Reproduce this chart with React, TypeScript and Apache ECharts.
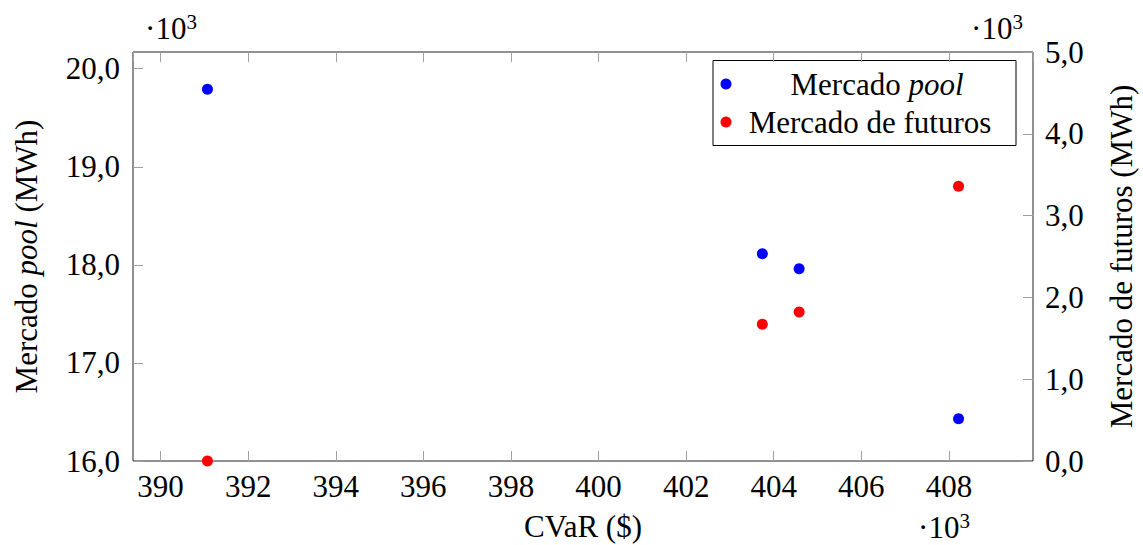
import React, { useEffect, useRef } from "react";
import * as echarts from "echarts";

const seriesNames = ["Mercado pool", "Mercado de futuros"];
const cvar = [391070, 403740, 404580, 408220];
const poolMWh = [19790, 18114, 17960, 16430];
const futurosMWh = [0, 1672, 1822, 3358];
const colors = ["#0000ff", "#ff0000"];

const FONT = "Liberation Serif, DejaVu Serif, serif";
const FS = 31;

const fmt1 = (v: number) => (v / 1000).toFixed(1).replace(".", ",");

export default function App() {
  const ref = useRef<HTMLDivElement>(null);
  useEffect(() => {
    const chart = echarts.init(ref.current!, null, { renderer: "svg" });
    const tickStyle = { show: true, inside: true, length: 10, lineStyle: { color: "#a0a0a0", width: 1 } };
    const txt = { fontFamily: FONT, fontSize: FS, color: "#000" };
    const legendItems = seriesNames.map((n, i) => [
      {
        type: "circle",
        shape: { cx: 726, cy: 84 + i * 38, r: 5.5 },
        style: { fill: colors[i] },
      },
      {
        type: "text",
        x: i === 0 ? 877 : 870,
        y: 84 + i * 38,
        style: {
          text: i === 0 ? "Mercado {i|pool}" : n,
          ...txt,
          fill: "#000",
          align: "center",
          verticalAlign: "middle",
          rich: { i: { fontStyle: "italic", fontFamily: FONT, fontSize: FS } },
        },
      },
    ]).flat();
    const sup = (x: number, y: number) => ({
      type: "text",
      x,
      y,
      style: {
        text: "·10{s|3}",
        fontFamily: FONT,
        fontSize: FS,
        fill: "#000",
        align: "center",
        verticalAlign: "middle",
        rich: { s: { fontFamily: FONT, fontSize: 21, verticalAlign: "top", padding: [0, 0, 12, 0] } },
      },
    });
    const xCommon = {
      type: "value",
      min: 389370,
      max: 409920,
      splitNumber: 10,
      splitLine: { show: false },
      axisLine: { show: false },
      axisTick: tickStyle,
    };
    chart.setOption({
      animation: false,
      grid: {
        left: 133,
        right: 110,
        top: 52,
        bottom: 84,
        outerBoundsMode: "none",
        containLabel: false,
        show: true,
        borderColor: "#222",
        borderWidth: 1,
      },
      xAxis: [
        {
          ...xCommon,
          position: "bottom",
          name: "CVaR ($)",
          nameLocation: "middle",
          nameGap: 50,
          nameTextStyle: txt,
          axisLabel: {
            ...txt,
            margin: 10,
            showMinLabel: false,
            showMaxLabel: false,
            formatter: (v: number) => String(Math.round(v / 1000)),
          },
        },
        {
          ...xCommon,
          position: "top",
          axisLabel: { show: false },
        },
      ],
      yAxis: [
        {
          type: "value",
          min: 16000,
          max: 20170,
          splitNumber: 4,
          position: "left",
          splitLine: { show: false },
          axisLine: { show: false },
          axisTick: tickStyle,
          name: "Mercado {i|pool} (MWh)",
          nameLocation: "middle",
          nameGap: 91,
          nameTextStyle: { ...txt, rich: { i: { fontStyle: "italic", fontFamily: FONT, fontSize: FS } } },
          axisLabel: { ...txt, margin: 13, showMaxLabel: false, formatter: fmt1 },
        },
        {
          type: "value",
          min: 0,
          max: 5000,
          interval: 1000,
          position: "right",
          splitLine: { show: false },
          axisLine: { show: false },
          axisTick: tickStyle,
          name: "Mercado de futuros (MWh)",
          nameLocation: "middle",
          nameGap: 73,
          nameTextStyle: txt,
          axisLabel: { ...txt, margin: 12, formatter: fmt1 },
        },
      ],
      series: [
        {
          name: seriesNames[0],
          type: "scatter",
          xAxisIndex: 0,
          yAxisIndex: 0,
          symbolSize: 11,
          itemStyle: { color: colors[0], opacity: 1 },
          data: cvar.map((x, i) => [x, poolMWh[i]]),
        },
        {
          name: seriesNames[1],
          type: "scatter",
          xAxisIndex: 0,
          yAxisIndex: 1,
          symbolSize: 11,
          itemStyle: { color: colors[1], opacity: 1 },
          data: cvar.map((x, i) => [x, futurosMWh[i]]),
        },
      ],
      graphic: [
        {
          type: "rect",
          shape: { x: 713, y: 60.5, width: 303, height: 85 },
          style: { fill: "#fff", stroke: "#000", lineWidth: 1 },
        },
        ...legendItems,
        sup(171, 28),
        sup(997, 28),
        sup(944, 527),
      ],
    });
    return () => chart.dispose();
  }, []);
  return (
    <div
      ref={ref}
      style={{ position: "fixed", left: 0, top: 0, width: 1143, height: 545, background: "#fff" }}
    />
  );
}
